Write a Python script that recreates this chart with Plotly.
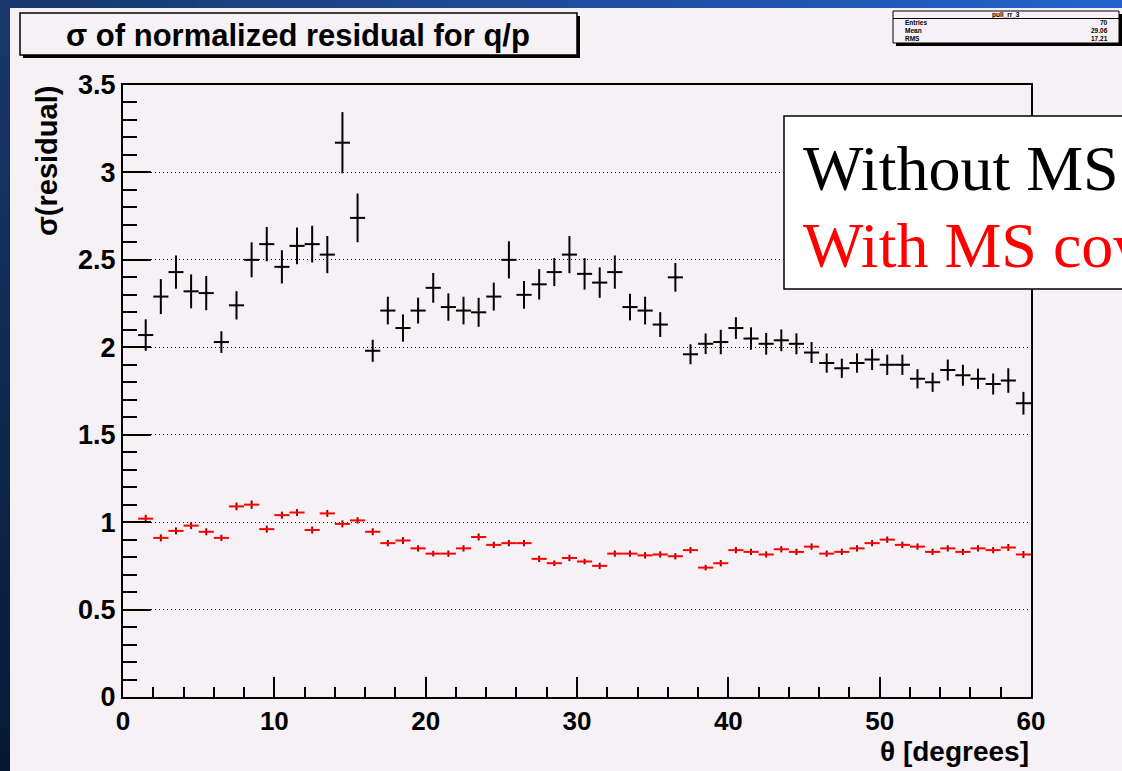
import plotly.graph_objects as go

# ---------------- data ----------------
theta = [1.5, 2.5, 3.5, 4.5, 5.5, 6.5, 7.5, 8.5, 9.5, 10.5,
         11.5, 12.5, 13.5, 14.5, 15.5, 16.5, 17.5, 18.5, 19.5, 20.5,
         21.5, 22.5, 23.5, 24.5, 25.5, 26.5, 27.5, 28.5, 29.5, 30.5,
         31.5, 32.5, 33.5, 34.5, 35.5, 36.5, 37.5, 38.5, 39.5, 40.5,
         41.5, 42.5, 43.5, 44.5, 45.5, 46.5, 47.5, 48.5, 49.5, 50.5,
         51.5, 52.5, 53.5, 54.5, 55.5, 56.5, 57.5, 58.5, 59.5]

sigma_without_ms = [2.07, 2.29, 2.43, 2.32, 2.31, 2.03, 2.24, 2.50, 2.59, 2.46,
                    2.58, 2.59, 2.53, 3.17, 2.74, 1.98, 2.21, 2.11, 2.21, 2.34,
                    2.23, 2.21, 2.20, 2.29, 2.50, 2.30, 2.36, 2.43, 2.53, 2.42,
                    2.37, 2.43, 2.23, 2.21, 2.13, 2.40, 1.96, 2.02, 2.03, 2.11,
                    2.05, 2.02, 2.04, 2.02, 1.97, 1.91, 1.88, 1.91, 1.93, 1.90,
                    1.90, 1.82, 1.80, 1.87, 1.84, 1.82, 1.79, 1.81, 1.68]

err_without_ms = [0.090, 0.100, 0.095, 0.097, 0.098, 0.062, 0.081, 0.100, 0.098, 0.095,
                  0.105, 0.105, 0.106, 0.175, 0.139, 0.063, 0.079, 0.078, 0.074, 0.085,
                  0.078, 0.079, 0.083, 0.080, 0.106, 0.079, 0.087, 0.080, 0.106, 0.090,
                  0.087, 0.095, 0.076, 0.079, 0.071, 0.082, 0.057, 0.059, 0.070, 0.062,
                  0.064, 0.062, 0.062, 0.060, 0.060, 0.055, 0.055, 0.055, 0.060, 0.058,
                  0.058, 0.055, 0.055, 0.060, 0.060, 0.058, 0.060, 0.070, 0.065]

sigma_with_ms = [1.02, 0.91, 0.95, 0.98, 0.945, 0.91, 1.09, 1.10, 0.96, 1.04,
                 1.055, 0.955, 1.05, 0.99, 1.01, 0.945, 0.88, 0.895, 0.85, 0.82,
                 0.82, 0.85, 0.915, 0.87, 0.88, 0.88, 0.79, 0.765, 0.795, 0.775,
                 0.75, 0.82, 0.82, 0.81, 0.815, 0.805, 0.84, 0.74, 0.765, 0.84,
                 0.83, 0.815, 0.845, 0.83, 0.86, 0.82, 0.83, 0.85, 0.88, 0.90,
                 0.87, 0.86, 0.83, 0.85, 0.83, 0.85, 0.84, 0.855, 0.815]

err_with_ms = [0.022, 0.020, 0.020, 0.020, 0.020, 0.018, 0.022, 0.024, 0.020, 0.020,
               0.020, 0.020, 0.020, 0.020, 0.018, 0.020, 0.018, 0.020, 0.018, 0.016,
               0.018, 0.018, 0.020, 0.018, 0.018, 0.018, 0.018, 0.016, 0.018, 0.016,
               0.018, 0.018, 0.018, 0.018, 0.018, 0.018, 0.018, 0.016, 0.018, 0.018,
               0.018, 0.018, 0.018, 0.018, 0.018, 0.018, 0.018, 0.018, 0.018, 0.018,
               0.018, 0.018, 0.018, 0.018, 0.018, 0.018, 0.018, 0.020, 0.020]

y_tick_vals = [0, 0.5, 1, 1.5, 2, 2.5, 3, 3.5]
y_tick_text = ["0", "0.5", "1", "1.5", "2", "2.5", "3", "3.5"]
x_tick_vals = [0, 10, 20, 30, 40, 50, 60]
x_tick_text = ["0", "10", "20", "30", "40", "50", "60"]

title_text = "σ of normalized residual for q/p"
x_title = "θ [degrees]"
y_title = "σ(residual)"
legend_lines = ["Without MS cov", "With MS cov"]
stats_name = "pull_rr_3"
stats_labels = ["Entries", "Mean", "RMS"]
stats_values = ["70", "29.06", "17.21"]

# ---------------- layout geometry (pixels) ----------------
W, H = 1122, 771
L, R, T, B = 123, 1031, 85, 697
CANVAS = "#f5f1f5"


def px(x):
    return (x - L) / (R - L)


def py(y):
    return (B - y) / (B - T)


def lerp(c0, c1, t):
    return "rgb(%d,%d,%d)" % tuple(round(a + (b - a) * t) for a, b in zip(c0, c1))


shapes = []
# slide background strips (gradient approximated with bands)
N = 40
top_c0, top_c1 = (24, 56, 108), (34, 98, 204)
for i in range(N):
    x0 = W * i / N
    x1 = W * (i + 1) / N + 1
    shapes.append(dict(type="rect", xref="paper", yref="paper", layer="below",
                       x0=px(x0), x1=px(x1), y0=py(0), y1=py(8),
                       line=dict(width=0), fillcolor=lerp(top_c0, top_c1, i / (N - 1))))
left_c0, left_c1 = (24, 56, 108), (9, 25, 52)
for i in range(N):
    y0 = H * i / N
    y1 = H * (i + 1) / N + 1
    shapes.append(dict(type="rect", xref="paper", yref="paper", layer="below",
                       x0=px(0), x1=px(10), y0=py(y0), y1=py(y1),
                       line=dict(width=0), fillcolor=lerp(left_c0, left_c1, i / (N - 1))))

# title box with shadow
shapes.append(dict(type="rect", xref="paper", yref="paper", layer="above",
                   x0=px(23), x1=px(580), y0=py(16), y1=py(58),
                   line=dict(width=0), fillcolor="black"))
shapes.append(dict(type="rect", xref="paper", yref="paper", layer="above",
                   x0=px(20), x1=px(577), y0=py(13), y1=py(55),
                   line=dict(width=1.5, color="black"), fillcolor=CANVAS))

# stats box with shadow
shapes.append(dict(type="rect", xref="paper", yref="paper", layer="above",
                   x0=px(896), x1=px(1122), y0=py(14), y1=py(46),
                   line=dict(width=0), fillcolor="black"))
shapes.append(dict(type="rect", xref="paper", yref="paper", layer="above",
                   x0=px(893), x1=px(1119), y0=py(11), y1=py(43),
                   line=dict(width=1, color="black"), fillcolor=CANVAS))
shapes.append(dict(type="line", xref="paper", yref="paper", layer="above",
                   x0=px(893), x1=px(1119), y0=py(18.5), y1=py(18.5),
                   line=dict(width=1, color="black")))

# legend box (runs off the right edge, as in the original slide)
shapes.append(dict(type="rect", xref="paper", yref="paper", layer="above",
                   x0=px(784), x1=px(1140), y0=py(116), y1=py(289),
                   line=dict(width=1.5, color="black"), fillcolor="white"))

annotations = []
annotations.append(dict(xref="paper", yref="paper", x=px(298), y=py(35),
                        text=title_text, showarrow=False, xanchor="center", yanchor="middle",
                        font=dict(family="Liberation Sans", size=31, color="black", weight="bold")))
annotations.append(dict(xref="paper", yref="paper", x=px(1006), y=py(15),
                        text=stats_name, showarrow=False, xanchor="center", yanchor="middle",
                        font=dict(family="Liberation Sans", size=6.5, color="black", weight="bold")))
for k, (lab, val) in enumerate(zip(stats_labels, stats_values)):
    yy = 23 + 7.5 * k
    annotations.append(dict(xref="paper", yref="paper", x=px(903), y=py(yy),
                            text=lab, showarrow=False, xanchor="left", yanchor="middle",
                            font=dict(family="Liberation Sans", size=6.5, color="black", weight="bold")))
    annotations.append(dict(xref="paper", yref="paper", x=px(1110), y=py(yy),
                            text=val, showarrow=False, xanchor="right", yanchor="middle",
                            font=dict(family="Liberation Sans", size=6.5, color="black", weight="bold")))

legend_colors = ["black", "red"]
for k, (txt, col) in enumerate(zip(legend_lines, legend_colors)):
    annotations.append(dict(xref="paper", yref="paper", x=px(801), y=py(169 + 77 * k),
                            text=txt, showarrow=False, xanchor="left", yanchor="middle",
                            font=dict(family="Liberation Serif", size=64, color=col)))

annotations.append(dict(xref="paper", yref="paper", x=px(1031), y=py(751),
                        text=x_title, showarrow=False, xanchor="right", yanchor="middle",
                        font=dict(family="Liberation Sans", size=28, color="black", weight="bold")))
annotations.append(dict(xref="paper", yref="paper", x=px(47), y=py(84),
                        text=y_title, showarrow=False, xanchor="center", yanchor="top",
                        textangle=-90,
                        font=dict(family="Liberation Sans", size=29, color="black", weight="bold")))

fig = go.Figure()
fig.add_trace(go.Scatter(
    x=theta, y=sigma_without_ms, mode="markers", name=legend_lines[0],
    marker=dict(size=2, color="rgba(0,0,0,0)"),
    error_x=dict(type="constant", value=0.5, color="black", thickness=2, width=0),
    error_y=dict(type="data", array=err_without_ms, color="black", thickness=2, width=0),
    showlegend=False, hoverinfo="x+y"))
fig.add_trace(go.Scatter(
    x=theta, y=sigma_with_ms, mode="markers", name=legend_lines[1],
    marker=dict(size=2, color="rgba(0,0,0,0)"),
    error_x=dict(type="constant", value=0.5, color="red", thickness=2, width=0),
    error_y=dict(type="data", array=err_with_ms, color="#a00000", thickness=2, width=0),
    showlegend=False, hoverinfo="x+y"))

fig.update_layout(
    width=W, height=H,
    margin=dict(l=L, r=W - R, t=T, b=H - B, pad=0),
    paper_bgcolor=CANVAS, plot_bgcolor=CANVAS,
    shapes=shapes, annotations=annotations,
    showlegend=False,
)
fig.update_xaxes(
    range=[0, 60], showgrid=False, zeroline=False,
    showline=True, linecolor="black", linewidth=2, mirror=True,
    ticks="inside", ticklen=20, tickwidth=2, tickcolor="black",
    tickvals=x_tick_vals, ticktext=x_tick_text,
    tickfont=dict(family="Liberation Sans", size=26, color="black", weight="bold"),
    ticklabelstandoff=0,
    minor=dict(dtick=2, tick0=0, ticks="inside", ticklen=10, tickwidth=2, tickcolor="black", showgrid=False),
)
fig.update_yaxes(
    range=[0, 3.5], zeroline=False,
    showgrid=True, gridcolor="black", gridwidth=1, griddash="1px,3px",
    showline=True, linecolor="black", linewidth=2, mirror=True,
    ticks="inside", ticklen=28, tickwidth=2, tickcolor="black",
    tickvals=y_tick_vals, ticktext=y_tick_text,
    tickfont=dict(family="Liberation Sans", size=27, color="black", weight="bold"),
    ticklabelstandoff=0,
    minor=dict(dtick=0.1, tick0=0, ticks="inside", ticklen=14, tickwidth=2, tickcolor="black", showgrid=False),
)

fig.write_html("out.html")
